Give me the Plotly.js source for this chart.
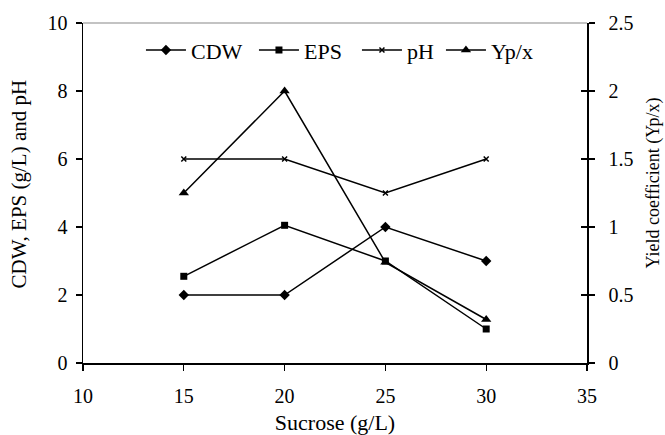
<!DOCTYPE html>
<html>
<head>
<meta charset="utf-8">
<script src="https://cdn.plot.ly/plotly-3.0.1.min.js"></script>
<style>html,body{margin:0;padding:0;background:#fff}#chart{width:665px;height:435px}</style>
</head>
<body>
<div id="chart"></div>
<script>
const sucrose = [15, 20, 25, 30];
const cdw = [2, 2, 4, 3];
const eps = [2.55, 4.05, 3.0, 1.0];
const ph = [6, 6, 5, 6];
const ypx = [1.25, 2.0, 0.74, 0.32];
const leftTicks = [0, 2, 4, 6, 8, 10];
const rightTicks = [0, 0.5, 1, 1.5, 2, 2.5];
const rightTickText = ['0', '0.5', '1', '1.5', '2', '2.5'];
const xTicks = [10, 15, 20, 25, 30, 35];

const fam = 'Liberation Serif, Times New Roman, serif';
const font = {family: fam, size: 20, color: '#000'};
const line = {color: '#000', width: 1.5};

const traces = [
  {x: sucrose, y: cdw, name: 'CDW', mode: 'lines+markers', line: line, legendwidth: 58,
   marker: {symbol: 'diamond', size: 8, color: '#000'}},
  {x: sucrose, y: eps, name: 'EPS', mode: 'lines+markers', line: line, legendwidth: 48,
   marker: {symbol: 'square', size: 7, color: '#000'}},
  {x: sucrose, y: ph, name: 'pH', mode: 'lines+markers', line: line, legendwidth: 29,
   marker: {symbol: 'x-thin', size: 5, color: '#000', line: {width: 1.5, color: '#000'}}},
  {x: sucrose, y: ypx, name: 'Yp/x', mode: 'lines+markers', line: line, yaxis: 'y2', legendwidth: 48,
   marker: {symbol: 'triangle-up', size: 9, color: '#000'}}
];

const layout = {
  width: 665, height: 435,
  margin: {l: 83, r: 78, t: 23, b: 72},
  paper_bgcolor: '#fff', plot_bgcolor: '#fff',
  font: font,
  showlegend: true,
  legend: {orientation: 'h', x: 0.115, xanchor: 'left', y: 0.92, yanchor: 'middle',
           font: {family: fam, size: 22, color: '#000'}, bgcolor: 'rgba(0,0,0,0)',
           itemwidth: 40, tracegroupgap: 0},
  xaxis: {range: [10, 35], tickvals: xTicks, ticks: 'outside', ticklen: 6, tickwidth: 1.2,
          tickcolor: '#000', showline: true, linecolor: '#000', linewidth: 1.5,
          showgrid: false, zeroline: false, tickfont: {family: fam, size: 20}, ticklabelstandoff: 8,
          title: {text: 'Sucrose (g/L)', font: {family: fam, size: 22}, standoff: 12}},
  yaxis: {range: [0, 10], tickvals: leftTicks, ticks: 'outside', ticklen: 6, tickwidth: 1.2,
          tickcolor: '#000', showline: true, linecolor: '#000', linewidth: 1.5,
          showgrid: false, zeroline: false, tickfont: {family: fam, size: 20}, ticklabelstandoff: 4},
  yaxis2: {range: [0, 2.5], tickvals: rightTicks, ticktext: rightTickText, overlaying: 'y', side: 'right',
           ticks: 'outside', ticklen: 6, tickwidth: 1.2, tickcolor: '#000',
           showline: true, linecolor: '#000', linewidth: 1.5, ticklabelstandoff: 10,
           showgrid: false, zeroline: false, tickfont: {family: fam, size: 20}},
  yaxis3: {range: [0, 2.5], tickvals: rightTicks, overlaying: 'y', side: 'right', anchor: 'x',
           ticks: 'inside', ticklen: 6, tickwidth: 1.2, tickcolor: '#000', showticklabels: false,
           showline: false, showgrid: false, zeroline: false},
  shapes: [{type: 'line', xref: 'paper', yref: 'paper', x0: 0, x1: 1, y0: 1, y1: 1,
            line: {color: '#888', width: 1.2}}],
  annotations: [
    {text: 'CDW, EPS (g/L) and pH', textangle: -90, xref: 'paper', yref: 'paper',
     x: 0, xshift: -65, y: 0.525, xanchor: 'center', yanchor: 'middle', showarrow: false,
     font: {family: fam, size: 21, color: '#000'}},
    {text: 'Yield coefficient (Yp/x)', textangle: -90, xref: 'paper', yref: 'paper',
     x: 1, xshift: 66, y: 0.528, xanchor: 'center', yanchor: 'middle', showarrow: false,
     font: {family: fam, size: 18, color: '#000'}}
  ]
};

traces.push({x: [null], y: [null], yaxis: 'y3', showlegend: false, hoverinfo: 'skip', mode: 'lines'});

Plotly.newPlot('chart', traces, layout, {displayModeBar: false, staticPlot: true});
</script>
</body>
</html>
